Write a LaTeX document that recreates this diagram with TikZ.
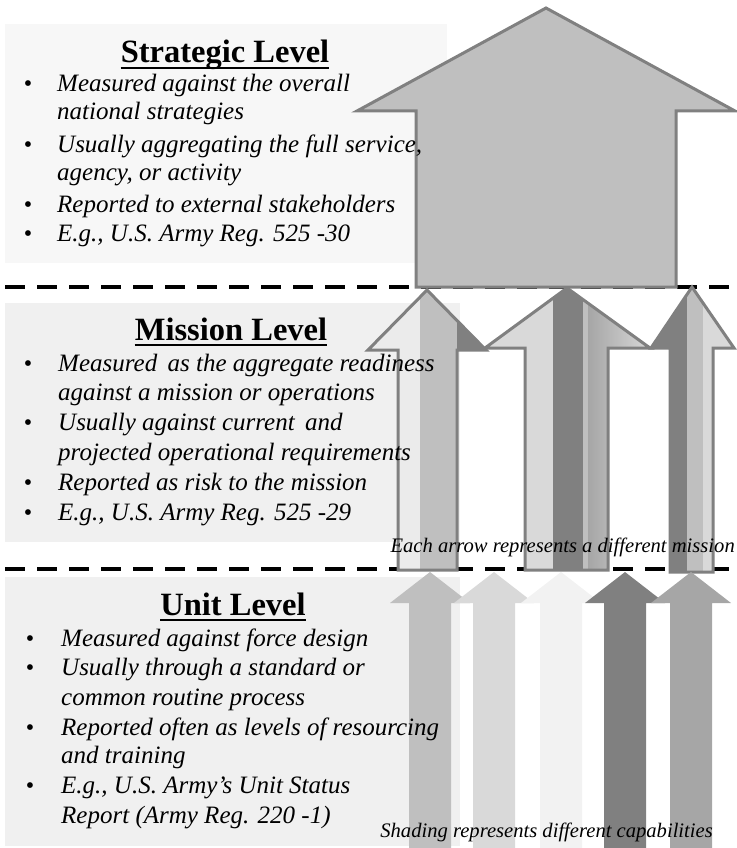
\documentclass[tikz,border=0pt]{standalone}
\usepackage{fontspec}
\setmainfont{Liberation Serif}
\usetikzlibrary{calc}

\definecolor{boxS}{HTML}{F7F7F7}
\definecolor{boxM}{HTML}{F0F0F0}
\definecolor{edge}{HTML}{808080}
\definecolor{gA}{HTML}{BFBFBF}
\definecolor{gB}{HTML}{D9D9D9}
\definecolor{gC}{HTML}{F2F2F2}
\definecolor{gD}{HTML}{808080}
\definecolor{gE}{HTML}{A6A6A6}
\definecolor{gL}{HTML}{EBEBEB}

\tikzset{
  body/.style={inner sep=0pt, anchor=base west, font=\fontsize{25}{30}\selectfont\itshape},
  bul/.style={inner sep=0pt, anchor=base, font=\fontsize{24}{29}\selectfont},
  ttl/.style={inner sep=0pt, anchor=base, font=\fontsize{32.5}{38}\selectfont\bfseries},
  captxt/.style={inner sep=0pt, anchor=base east, font=\fontsize{20.6}{24}\selectfont\itshape},
  sepline/.style={line width=4pt, dash pattern=on 20pt off 12pt},
  outl/.style={draw=edge, line width=3pt, line join=miter},
  underl/.style={line width=1.8pt}
}

\begin{document}
\begin{tikzpicture}[x=1pt,y=-1pt]
\useasboundingbox (0,0) rectangle (736,848);

% level panels
\fill[boxS] (5,24) rectangle (447,263);
\fill[boxM] (5,303) rectangle (460,542);
\fill[boxM] (5,577) rectangle (460,846);

% level separators
\draw[sepline] (5,287) -- (736,287);
\draw[sepline] (5,569) -- (736,569);

% strategic arrow
\draw[outl, fill=gA] (546,8) -- (735,111) -- (676,111) -- (676,287)
  -- (416,287) -- (416,111) -- (357,111) -- cycle;

% mission arrows: striped fills clipped to each outline
\begin{scope}
  \clip (427,290) -- (486,350) -- (457,350) -- (457,570) -- (398,570) -- (398,350) -- (368,350) -- cycle;
  \fill[gL] (360,280) rectangle (420,580);
  \fill[gA] (420,280) rectangle (457,580);
  \fill[gD] (457,280) rectangle (490,580);
\end{scope}
\draw[outl] (427,290) -- (486,350) -- (457,350) -- (457,570) -- (398,570) -- (398,350) -- (368,350) -- cycle;

\begin{scope}
  \clip (567,288) -- (650,348) -- (608,348) -- (608,570) -- (525,570) -- (525,348) -- (485,348) -- cycle;
  \fill[gB] (480,280) rectangle (553,580);
  \fill[gD] (553,280) rectangle (583,580);
  \fill[gA] (583,280) rectangle (588,580);
  \shade[left color=gE, right color=gB] (588,280) rectangle (652,580);
\end{scope}
\draw[outl] (567,288) -- (650,348) -- (608,348) -- (608,570) -- (525,570) -- (525,348) -- (485,348) -- cycle;

\begin{scope}
  \clip (692,287) -- (734,348) -- (713,348) -- (713,572) -- (670,572) -- (670,348) -- (651,348) -- cycle;
  \fill[gD] (645,280) rectangle (687,580);
  \fill[gA] (687,280) rectangle (703,580);
  \fill[gB] (703,280) rectangle (740,580);
\end{scope}
\draw[outl] (692,287) -- (734,348) -- (713,348) -- (713,572) -- (670,572) -- (670,348) -- (651,348) -- cycle;

% unit arrows (one shade per capability)
\foreach \c/\col [count=\i] in {430/gA, 494/gB, 561/gC, 625/gD, 691/gE}{
  \fill[\col] (\c,572) -- (\c+40,603) -- (\c+21,603) -- (\c+21,848)
    -- (\c-21,848) -- (\c-21,603) -- (\c-40,603) -- cycle;
}

% strategic text
\node[ttl] (stitle) at (225,63) {Strategic Level};
\draw[underl] ([yshift=-5pt]stitle.base west) -- ([yshift=-5pt]stitle.base east);
\node[bul] (sb1) at (28,92) {\textbullet};
\node[body] (s1) at (57,92) {Measured against the overall};
\node[body] (s2) at (57,120) {national strategies};
\node[bul] (sb2) at (28,152) {\textbullet};
\node[body] (s3) at (57,152) {Usually aggregating the full service,};
\node[body] (s4) at (57,180) {agency, or activity};
\node[bul] (sb3) at (28,212) {\textbullet};
\node[body] (s5) at (57,212) {Reported to external stakeholders};
\node[bul] (sb4) at (28,241) {\textbullet};
\node[body] (s6) at (57,241) {E.g., U.S. Army Reg. 525 -30};

% mission text
\node[ttl] (mtitle) at (231,340) {Mission Level};
\draw[underl] ([yshift=-5pt]mtitle.base west) -- ([yshift=-5pt]mtitle.base east);
\node[bul] (mb1) at (28,371) {\textbullet};
\node[body] (m1) at (58,371) {Measured\, as the aggregate readiness};
\node[body] (m2) at (58,400) {against a mission or operations};
\node[bul] (mb2) at (28,430) {\textbullet};
\node[body] (m3) at (58,430) {Usually against current\, and};
\node[body] (m4) at (58,460) {projected operational requirements};
\node[bul] (mb3) at (28,490) {\textbullet};
\node[body] (m5) at (58,490) {Reported as risk to the mission};
\node[bul] (mb4) at (28,520) {\textbullet};
\node[body] (m6) at (58,520) {E.g., U.S. Army Reg. 525 -29};

% unit text
\node[ttl] (utitle) at (233,615) {Unit Level};
\draw[underl] ([yshift=-5pt]utitle.base west) -- ([yshift=-5pt]utitle.base east);
\node[bul] (ub1) at (30,646) {\textbullet};
\node[body] (u1) at (61,646) {Measured against force design};
\node[bul] (ub2) at (30,675) {\textbullet};
\node[body] (u2) at (61,675) {Usually through a standard or};
\node[body] (u3) at (61,705) {common routine process};
\node[bul] (ub3) at (30,735) {\textbullet};
\node[body] (u4) at (61,735) {Reported often as levels of resourcing};
\node[body] (u5) at (61,763) {and training};
\node[bul] (ub4) at (30,793) {\textbullet};
\node[body] (u6) at (61,793) {E.g., U.S. Army's Unit Status};
\node[body] (u7) at (61,823) {Report (Army Reg. 220 -1)};

% captions
\node[captxt] (capm) at (735,552) {Each arrow represents a different mission};
\node[captxt] (capu) at (713,837) {Shading represents different capabilities};
\end{tikzpicture}
\end{document}
